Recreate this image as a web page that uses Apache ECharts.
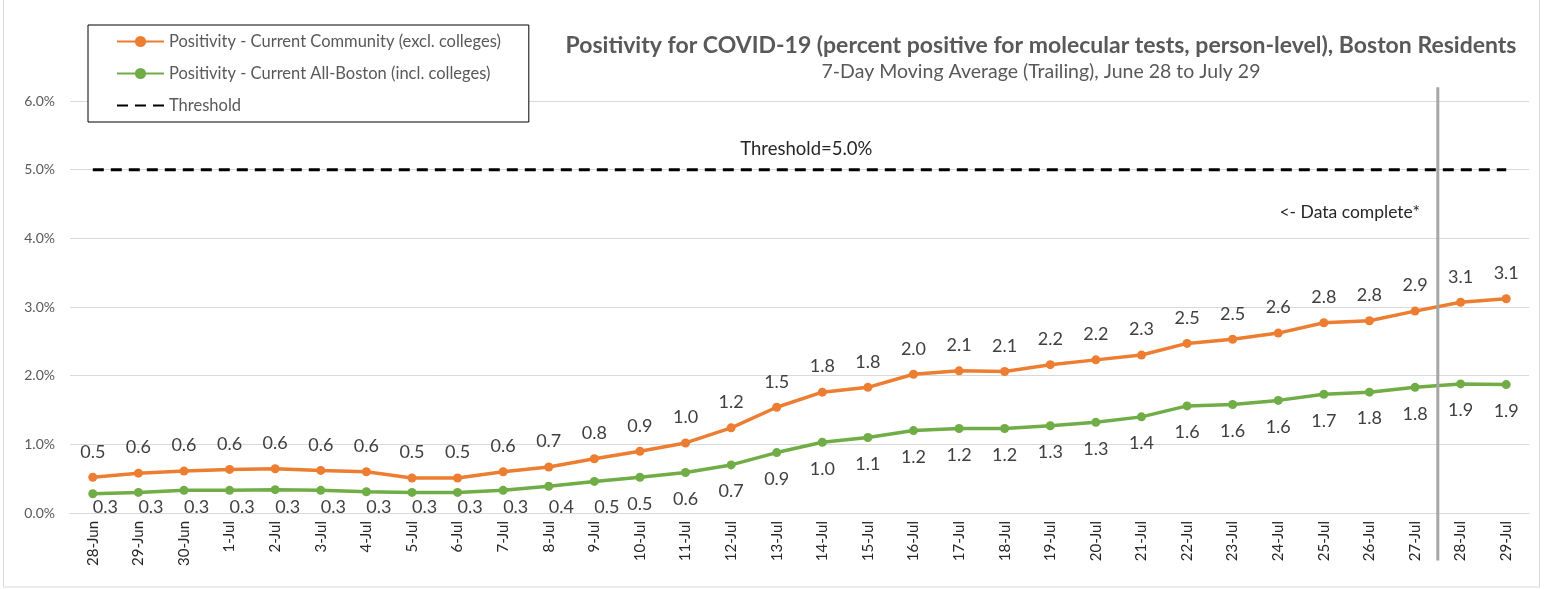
<!DOCTYPE html>
<html><head><meta charset="utf-8">
<script src="https://cdn.jsdelivr.net/npm/echarts@6/dist/echarts.min.js"></script>
<style>html,body{margin:0;padding:0;background:#fff}#c{width:1545px;height:589px}</style>
</head><body><div id="c"></div>
<script>
const categories = ['28-Jun','29-Jun','30-Jun','1-Jul','2-Jul','3-Jul','4-Jul','5-Jul','6-Jul','7-Jul','8-Jul','9-Jul','10-Jul','11-Jul','12-Jul','13-Jul','14-Jul','15-Jul','16-Jul','17-Jul','18-Jul','19-Jul','20-Jul','21-Jul','22-Jul','23-Jul','24-Jul','25-Jul','26-Jul','27-Jul','28-Jul','29-Jul'];
const community = [0.52,0.58,0.61,0.635,0.645,0.62,0.60,0.51,0.51,0.60,0.67,0.79,0.90,1.02,1.24,1.54,1.76,1.83,2.02,2.07,2.06,2.16,2.23,2.30,2.47,2.53,2.62,2.77,2.80,2.94,3.07,3.12];
const allBoston = [0.28,0.30,0.33,0.33,0.34,0.33,0.31,0.30,0.30,0.33,0.39,0.46,0.52,0.59,0.70,0.88,1.03,1.10,1.20,1.23,1.23,1.27,1.32,1.40,1.56,1.58,1.64,1.73,1.76,1.83,1.88,1.87];
const thresholdValue = 5.0;
const thresholdLabelIndex = 16;
const dataCompleteAfter = '27-Jul';
const yMin = 0, yMax = 6, yInterval = 1;

const FONT = 'Lato';
const chart = echarts.init(document.getElementById('c'));
const threshold = categories.map(() => thresholdValue);

const option = {
  animation: false,
  backgroundColor: '#fff',
  textStyle: { fontFamily: FONT },
  title: [{
    text: 'Positivity for COVID-19 (percent positive for molecular tests, person-level), Boston Residents',
    subtext: '7-Day Moving Average (Trailing), June 28 to July 29',
    left: 1036, top: 29, textAlign: 'center', itemGap: 5,
    textStyle: { fontFamily: FONT, fontSize: 23, fontWeight: 'bold', color: '#595959' },
    subtextStyle: { fontFamily: FONT, fontSize: 19.5, color: '#595959' }
  }],
  legend: {
    orient: 'vertical', left: 88, top: 25,
    padding: [8, 28, 8, 28], itemGap: 15, itemWidth: 47, itemHeight: 14,
    borderColor: '#000', borderWidth: 1, backgroundColor: '#fff',
    textStyle: { fontFamily: FONT, fontSize: 16.5, color: '#595959' },
    data: ['Positivity - Current Community (excl. colleges)', 'Positivity - Current All-Boston (incl. colleges)', 'Threshold']
  },
  grid: { left: 70, right: 16, top: 101, bottom: 76 },
  xAxis: {
    type: 'category', data: categories, boundaryGap: true,
    axisLine: { lineStyle: { color: '#d9d9d9', width: 1 } },
    axisTick: { show: false },
    axisLabel: { rotate: 90, fontSize: 15, color: '#262626', margin: 8, interval: 0, fontFamily: FONT }
  },
  yAxis: {
    type: 'value', min: yMin, max: yMax, interval: yInterval,
    axisLine: { show: false }, axisTick: { show: false },
    splitLine: { lineStyle: { color: '#d9d9d9', width: 1 } },
    axisLabel: { fontSize: 14, color: '#595959', margin: 15, fontFamily: FONT, formatter: v => v.toFixed(1) + '%' }
  },
  series: [
    {
      name: 'Threshold', type: 'line', data: threshold.map((v, i) => i === thresholdLabelIndex ? {
        value: v, label: { show: true, formatter: 'Threshold=' + thresholdValue.toFixed(1) + '%', position: 'top', distance: 11, fontSize: 18.5, color: '#262626', fontFamily: FONT }
      } : v),
      symbol: 'circle', symbolSize: 1, showSymbol: true,
      itemStyle: { color: 'rgba(0,0,0,0)' },
      lineStyle: { color: '#000', width: 3, type: [11, 7] }, z: 1
    },
    {
      name: 'Positivity - Current All-Boston (incl. colleges)', type: 'line', data: allBoston,
      symbol: 'circle', symbolSize: 9, itemStyle: { color: '#70AD47' }, lineStyle: { color: '#70AD47', width: 3.5 },
      label: { show: true, position: 'bottom', distance: 13, fontSize: 18, color: '#404040', fontFamily: FONT, formatter: p => p.value.toFixed(1) },
      z: 3
    },
    {
      name: 'Positivity - Current Community (excl. colleges)', type: 'line', data: community,
      symbol: 'circle', symbolSize: 9, itemStyle: { color: '#ED7D31' }, lineStyle: { color: '#ED7D31', width: 3.5 },
      label: { show: true, position: 'top', distance: 12, fontSize: 18, color: '#404040', fontFamily: FONT, formatter: p => p.value.toFixed(1) },
      z: 4
    }
  ],
  labelLayout: function (params) {
    if (params.seriesIndex === 0) return { dx: -16 };
    if (params.seriesIndex !== 1) return {};
    const bottomLimit = chart.convertToPixel({ yAxisIndex: 0 }, yMin) + 3;
    const r = params.labelRect;
    if (r.y + r.height > bottomLimit) {
      return { y: bottomLimit - r.height, verticalAlign: 'top' };
    }
    return {};
  }
};
chart.setOption(option);

// vertical "data complete" divider between dataCompleteAfter and the next day
const idx = categories.indexOf(dataCompleteAfter);
const xa = chart.convertToPixel({ xAxisIndex: 0 }, categories[idx]);
const xb = chart.convertToPixel({ xAxisIndex: 0 }, categories[idx + 1]);
const xm = (xa + xb) / 2;
const yTop = chart.convertToPixel({ yAxisIndex: 0 }, 6.2);
const yBot = chart.convertToPixel({ yAxisIndex: 0 }, -0.69);
const yText = chart.convertToPixel({ yAxisIndex: 0 }, 4.38);
chart.setOption({
  graphic: [
    { type: 'rect', shape: { x: 3.5, y: -2, width: 1536, height: 589 }, style: { fill: 'none', stroke: '#d9d9d9', lineWidth: 1 }, silent: true },
    { type: 'line', shape: { x1: xm, y1: yTop, x2: xm, y2: yBot }, style: { stroke: '#a6a6a6', lineWidth: 3 }, z: 10 },
    { type: 'text', x: xm - 18, y: yText, style: { text: '<- Data complete*', fontSize: 17.5, fontFamily: FONT, fill: '#262626', align: 'right', verticalAlign: 'middle' }, z: 10 }
  ]
});
</script>
</body></html>
